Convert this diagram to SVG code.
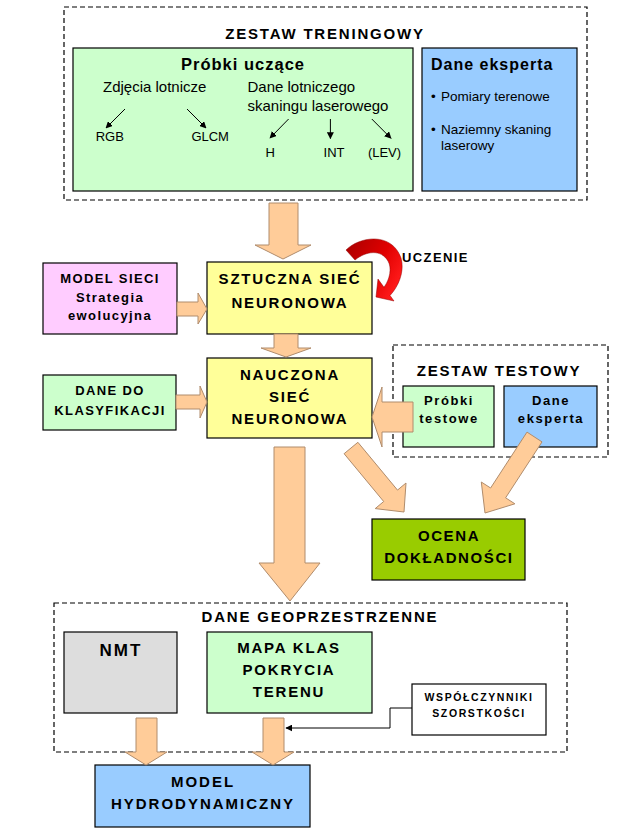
<svg xmlns="http://www.w3.org/2000/svg" width="631" height="834" viewBox="0 0 631 834">
<defs>
<style>
.box{stroke:#000;stroke-width:1.2}
.dash{fill:none;stroke:#000;stroke-width:1.2;stroke-dasharray:5,3}
.arr{fill:#FFCC99;stroke:#B08C6C;stroke-width:1}
.t{font-family:"Liberation Sans",Arial,sans-serif;font-weight:bold;fill:#000}
.n{font-family:"Liberation Sans",Arial,sans-serif;fill:#000}
.c{text-anchor:middle}
.h15{font-size:15px;letter-spacing:1.8px}
.h13{font-size:13px;letter-spacing:1.4px}
.thin{fill:none;stroke:#000;stroke-width:1}
</style>
<marker id="ah" viewBox="0 0 10 10" refX="9" refY="5" markerWidth="7" markerHeight="7" orient="auto" markerUnits="userSpaceOnUse">
<path d="M0,0 L10,5 L0,10 Z" fill="#000"/>
</marker>
<linearGradient id="red" x1="0" y1="0" x2="1" y2="0.6">
<stop offset="0" stop-color="#A80000"/>
<stop offset="0.6" stop-color="#E00000"/>
<stop offset="1" stop-color="#FF1A1A"/>
</linearGradient>
</defs>
<rect width="631" height="834" fill="#fff"/>

<g id="training">
<rect class="dash" x="64" y="7" width="523" height="193"/>
<text class="t c h15" x="325" y="38.5">ZESTAW TRENINGOWY</text>
</g>

<g id="probki-uczace">
<rect class="box" x="73" y="48" width="340" height="143" fill="#CCFFCC"/>
<text class="t c" x="243" y="70" font-size="16.5" letter-spacing="1">Próbki uczące</text>
<text class="n" x="103" y="92" font-size="15">Zdjęcia lotnicze</text>
<text class="n" x="247.5" y="92" font-size="15">Dane lotniczego</text>
<text class="n" x="247.5" y="111" font-size="15">skaningu laserowego</text>
<text class="n" x="95.7" y="141" font-size="13">RGB</text>
<text class="n" x="191.4" y="141" font-size="13">GLCM</text>
<text class="n" x="265.4" y="157" font-size="13">H</text>
<text class="n" x="323.6" y="157" font-size="13">INT</text>
<text class="n" x="367.9" y="157" font-size="13">(LEV)</text>
<g marker-end="url(#ah)">
<line class="thin" x1="125" y1="109" x2="106" y2="128"/>
<line class="thin" x1="187" y1="109" x2="206" y2="128"/>
<line class="thin" x1="288.6" y1="119" x2="270" y2="138"/>
<line class="thin" x1="330.4" y1="119" x2="330.4" y2="138.5"/>
<line class="thin" x1="371.8" y1="119" x2="391" y2="138.3"/>
</g>
</g>

<g id="dane-eksperta-train">
<rect class="box" x="422" y="48" width="155" height="143" fill="#99CCFF"/>
<text class="t" x="431" y="70" font-size="16" letter-spacing="1">Dane eksperta</text>
<text class="n" x="431" y="101" font-size="13.5">•</text>
<text class="n" x="441" y="101" font-size="13.5">Pomiary terenowe</text>
<text class="n" x="431" y="134" font-size="13.5">•</text>
<text class="n" x="441" y="134" font-size="13.5">Naziemny skaning</text>
<text class="n" x="441" y="150" font-size="13.5">laserowy</text>
</g>

<g id="model-sieci">
<rect class="box" x="43" y="263" width="134" height="71" fill="#FFCCFF"/>
<text class="t c h13" x="110" y="283">MODEL SIECI</text>
<text class="t c h13" x="110" y="301.5">Strategia</text>
<text class="t c h13" x="110" y="320">ewolucyjna</text>
</g>

<g id="ssn">
<rect class="box" x="207" y="262" width="165" height="72" fill="#FFFF99"/>
<text class="t c h15" x="290" y="284">SZTUCZNA SIEĆ</text>
<text class="t c h15" x="290" y="308">NEURONOWA</text>
</g>

<g id="dane-do-klasyfikacji">
<rect class="box" x="43" y="375" width="133" height="55" fill="#CCFFCC"/>
<text class="t c h13" x="110" y="395">DANE DO</text>
<text class="t c h13" x="110" y="415">KLASYFIKACJI</text>
</g>

<g id="nsn">
<rect class="box" x="207" y="358" width="165" height="80" fill="#FFFF99"/>
<text class="t c h15" x="290" y="380">NAUCZONA</text>
<text class="t c h15" x="290" y="402">SIEĆ</text>
<text class="t c h15" x="290" y="424">NEURONOWA</text>
</g>

<g id="zestaw-testowy">
<rect class="dash" x="393" y="345" width="215" height="112"/>
<text class="t c h15" x="499" y="376">ZESTAW TESTOWY</text>
</g>

<g id="probki-testowe">
<rect class="box" x="403" y="386" width="91" height="61" fill="#CCFFCC"/>
<text class="t c" x="449" y="405" font-size="13" letter-spacing="1.6">Próbki</text>
<text class="t c" x="449" y="423" font-size="13" letter-spacing="1.6">testowe</text>
</g>

<g id="dane-eksperta-test">
<rect class="box" x="504" y="386" width="93" height="61" fill="#99CCFF"/>
<text class="t c" x="551" y="405" font-size="13" letter-spacing="1.6">Dane</text>
<text class="t c" x="551" y="423" font-size="13" letter-spacing="1.6">eksperta</text>
</g>

<g id="ocena">
<rect class="box" x="372" y="519" width="153" height="61" fill="#99CC00"/>
<text class="t c" x="449" y="541" font-size="15" letter-spacing="1.6">OCENA</text>
<text class="t c" x="449" y="563" font-size="15" letter-spacing="1.6">DOKŁADNOŚCI</text>
</g>

<g id="geo">
<rect class="dash" x="54" y="603" width="513" height="149"/>
<text class="t c h15" x="320" y="622">DANE GEOPRZESTRZENNE</text>
</g>

<g id="nmt">
<rect class="box" x="64" y="632" width="113" height="81" fill="#DDDDDD"/>
<text class="t c" x="121" y="656" font-size="17" letter-spacing="2">NMT</text>
</g>

<g id="mapa">
<rect class="box" x="207" y="632" width="165" height="81" fill="#CCFFCC"/>
<text class="t c h15" x="289" y="653">MAPA KLAS</text>
<text class="t c h15" x="289" y="675">POKRYCIA</text>
<text class="t c h15" x="289" y="697">TERENU</text>
</g>

<g id="wspolczynniki">
<rect class="box" x="412" y="684" width="134" height="51" fill="#FFFFFF"/>
<text class="t c" x="479" y="701" font-size="10.5" letter-spacing="1.6">WSPÓŁCZYNNIKI</text>
<text class="t c" x="479" y="717" font-size="10.5" letter-spacing="1.6">SZORSTKOŚCI</text>
</g>

<g id="model-hydro">
<rect class="box" x="95" y="765" width="215" height="62" fill="#99CCFF"/>
<text class="t c" x="203" y="787" font-size="15" letter-spacing="2">MODEL</text>
<text class="t c" x="203" y="809" font-size="15" letter-spacing="2">HYDRODYNAMICZNY</text>
</g>

<g id="uczenie">
<path d="M346,250 C360,236 392,232 401,258 C405,272 398,287 390,295.5 L394,301 L376,297 L378,279 L384,287.3 C390,279 392,268 388,261 C381,249 366,251 355,260 Z" fill="url(#red)" stroke="#900000" stroke-width="0.5"/>
<text class="t" x="402" y="262" font-size="13" letter-spacing="1.4">UCZENIE</text>
</g>

<g id="connectors">
<polygon class="arr" points="269,203 298,203 298,245 311,245 283,259 255,245 269,245"/>
<polygon class="arr" points="177,302 198,302 198,293 207,309 198,324 198,316 177,316"/>
<polygon class="arr" points="274,334 298,334 298,348 311,348 286,357 261,348 274,348"/>
<polygon class="arr" points="176,395 200,395 200,386 207,402 200,418 200,409 176,409"/>
<polygon class="arr" points="413,402 382,402 382,387 372,417 382,447 382,432 413,432"/>
<polygon class="arr" points="274,447 305,447 305,563 320,563 290,601 259,563 274,563"/>
<polygon class="arr" points="344.1,453.7 357.9,442.3 397.5,490.1 406,483 404,512 375.2,508.6 383.7,501.5"/>
<polygon class="arr" points="527,432.1 542,441.9 505.6,497.8 514.9,503.8 485,513 481.3,482 490.6,488"/>
<polygon class="arr" points="136,718 157,718 157,752 167,752 146,765 125,752 136,752"/>
<polygon class="arr" points="263,718 284,718 284,752 294,752 273,765 252,752 263,752"/>
<path class="thin" d="M412,708 H390 V728 H286" marker-end="url(#ah)"/>
</g>
</svg>
